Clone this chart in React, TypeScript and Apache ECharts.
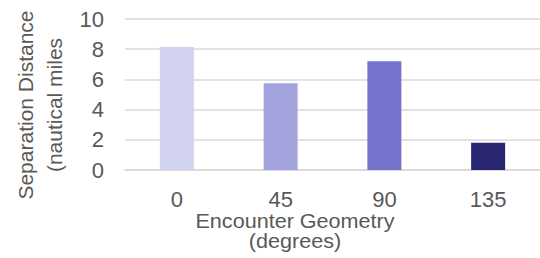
import React, { useEffect, useRef } from "react";
import * as echarts from "echarts";

const categories = ["0", "45", "90", "135"];
const separation = [8.15, 5.75, 7.2, 1.8];
const barColors = ["#D0D2EE", "#A3A3DE", "#7473CE", "#292672"];
const yTicks = { min: 0, max: 10, interval: 2 };
const xTitle = "Encounter Geometry\n(degrees)";
const yTitle = "Separation Distance\n(nautical miles";

const TEXT = "#595959";
const FONT = "'Liberation Sans', Arial, sans-serif";

export default function App() {
  const ref = useRef<HTMLDivElement>(null);
  useEffect(() => {
    if (!ref.current) return;
    const chart = echarts.init(ref.current, undefined, { renderer: "svg" });
    chart.setOption({
      animation: false,
      grid: { left: 125, top: 19, width: 426, height: 151, containLabel: false },
      xAxis: {
        type: "category",
        data: categories,
        axisLine: { show: true, lineStyle: { color: "#D9D9D9", width: 1.5 } },
        axisTick: { show: false },
        axisLabel: { color: TEXT, fontSize: 22, fontFamily: FONT, margin: 18, lineHeight: 22 },
      },
      yAxis: {
        type: "value",
        min: yTicks.min,
        max: yTicks.max,
        interval: yTicks.interval,
        axisLine: { show: false },
        axisTick: { show: false },
        splitLine: { lineStyle: { color: "#D9D9D9", width: 1.5 } },
        axisLabel: { color: TEXT, fontSize: 22, fontFamily: FONT, margin: 21 },
      },
      series: [
        {
          type: "bar",
          barWidth: 34,
          data: separation.map((v, i) => ({ value: v, itemStyle: { color: barColors[i] } })),
        },
      ],
      graphic: [
        {
          type: "text",
          x: 295,
          y: 231,
          scaleX: 1.08,
          style: {
            text: xTitle,
            fill: TEXT,
            fontSize: 20,
            fontFamily: FONT,
            lineHeight: 20,
            align: "center",
            verticalAlign: "middle",
          },
        },
        {
          type: "text",
          x: 40,
          y: 105,
          rotation: Math.PI / 2,
          style: {
            text: yTitle,
            fill: TEXT,
            fontSize: 21,
            fontFamily: FONT,
            lineHeight: 29,
            align: "center",
            verticalAlign: "middle",
          },
        },
      ],
    });
    return () => chart.dispose();
  }, []);
  return (
    <div
      ref={ref}
      style={{ position: "fixed", left: 0, top: 0, width: 540, height: 258, background: "#fff" }}
    />
  );
}
